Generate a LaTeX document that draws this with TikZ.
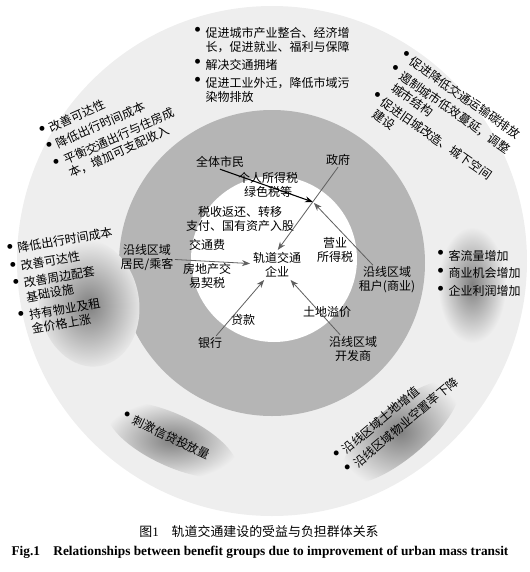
\documentclass[tikz,border=0pt]{standalone}
\usepackage{fontspec}
\setmainfont{Noto Sans CJK SC}
\newfontfamily\capfont{Liberation Serif}
\usetikzlibrary{arrows.meta}
\definecolor{ringlight}{RGB}{238,238,238}
\definecolor{ringgray}{RGB}{181,181,181}
\definecolor{arrgray}{RGB}{95,95,95}
\newcommand{\bul}{\makebox[6pt]{\raisebox{-0.14em}{\LARGE\textbullet}}}
\newcommand{\itemgap}{\\[2.6pt]}

\begin{document}
\begin{tikzpicture}[x=0.75pt,y=-0.75pt,>={Stealth[length=6pt,width=4.5pt]},
    every node/.style={font=\fontsize{9}{10.5}\selectfont,inner sep=1pt},
    group/.style={anchor=base west,inner sep=0pt},
    arr/.style={->,arrgray,semithick,shorten >=1pt}]
  \useasboundingbox (0,0) rectangle (530,572);
  % rings
  \fill[ringlight] (272,261) circle (255);
  \fill[ringgray] (272,263) circle (153);
  \fill[white] (274,259) circle (83);
  % shadows behind the lists
  \foreach \cx/\cy/\ra/\rb/\rot in {89/303/50/64/10, 472/285/34/58/0,
      172/440/70/26/-25, 400/432/74/26/40}{
    \shade[inner color=black!50,outer color=ringlight,shift={(\cx,\cy)},rotate=\rot]
      (0,0) ellipse [x radius=\ra, y radius=\rb];
  }
  % inner actors
  \node (citizens) at (220,162) {全体市民};
  \node (gov) at (338,160) {政府};
  \node[align=center] (taxA) at (268,185) {个人所得税\\绿色税等};
  \node[align=center] (taxB) at (240,219) {税收返还、转移\\支付、国有资产入股};
  \node (fee) at (207,245) {交通费};
  \node[align=center] (residents) at (147,258) {沿线区域\\居民/乘客};
  \node[align=center] (estatetax) at (207,276) {房地产交\\易契税};
  \node[align=center] (rail) at (277,265) {轨道交通\\企业};
  \node[align=center] (biztax) at (335,250) {营业\\所得税};
  \node[align=center] (tenants) at (387,280) {沿线区域\\租户(商业)};
  \node (premium) at (327,312) {土地溢价};
  \node (loan) at (243,320) {贷款};
  \node (bank) at (210,343) {银行};
  \node[align=center] (developer) at (353,349) {沿线区域\\开发商};
  \coordinate (cross) at (313,202);
  % flows
  \draw[->,thick,black] (citizens.south) -- (cross);
  \draw[arr] (tenants) -- (cross);
  \draw[arr] (gov.south) -- (rail.north);
  \foreach \src in {residents,bank,developer}
    \draw[arr] (\src) -- (rail);
  % benefit lists
  \node[group] (topgroup) at (194,37) {\begin{tabular}[t]{@{}c@{\hspace{2.5pt}}l@{}}
    \bul & 促进城市产业整合、经济增\\ & 长，促进就业、福利与保障\itemgap
    \bul & 解决交通拥堵\itemgap
    \bul & 促进工业外迁，降低市域污\\ & 染物排放\end{tabular}};
  \node[group,rotate=-35] (urgroup) at (399,57) {\begin{tabular}[t]{@{}c@{\hspace{2.5pt}}l@{}}
    \bul & 促进降低交通运输碳排放\itemgap
    \bul & 遏制城市低效蔓延，调整\\ & 城市结构\itemgap
    \bul & 促进旧城改造、城下空间\\ & 建设\end{tabular}};
  \node[group,rotate=24] (ulgroup) at (41,137) {\begin{tabular}[t]{@{}c@{\hspace{2.5pt}}l@{}}
    \bul & 改善可达性\itemgap
    \bul & 降低出行时间成本\itemgap
    \bul & 平衡交通出行与住房成\\ & 本，增加可支配收入\end{tabular}};
  \node[group,rotate=10] (lgroup) at (7,255) {\begin{tabular}[t]{@{}c@{\hspace{2.5pt}}l@{}}
    \bul & 降低出行时间成本\itemgap
    \bul & 改善可达性\itemgap
    \bul & 改善周边配套\\ & 基础设施\itemgap
    \bul & 持有物业及租\\ & 金价格上涨\end{tabular}};
  \node[group] (rgroup) at (437,260) {\begin{tabular}[t]{@{}c@{\hspace{2.5pt}}l@{}}
    \bul & 客流量增加\itemgap
    \bul & 商业机会增加\itemgap
    \bul & 企业利润增加\end{tabular}};
  \node[group,rotate=-25] (blgroup) at (121,419) {\begin{tabular}[t]{@{}c@{\hspace{2.5pt}}l@{}}
    \bul & 刺激信贷投放量\end{tabular}};
  \node[group,rotate=40] (brgroup) at (338,462) {\begin{tabular}[t]{@{}c@{\hspace{2.5pt}}l@{}}
    \bul & 沿线区域土地增值\itemgap
    \bul & 沿线区域物业空置率下降\end{tabular}};
  % caption
  \node[font=\fontsize{9.7}{11}\selectfont] (capcn) at (259,532)
    {图{\capfont 1}\quad 轨道交通建设的受益与负担群体关系};
  \node[font=\capfont\bfseries\fontsize{10}{11}\selectfont] (capen) at (260,552)
    {Fig.1\quad Relationships between benefit groups due to improvement of urban mass transit};
\end{tikzpicture}
\end{document}
